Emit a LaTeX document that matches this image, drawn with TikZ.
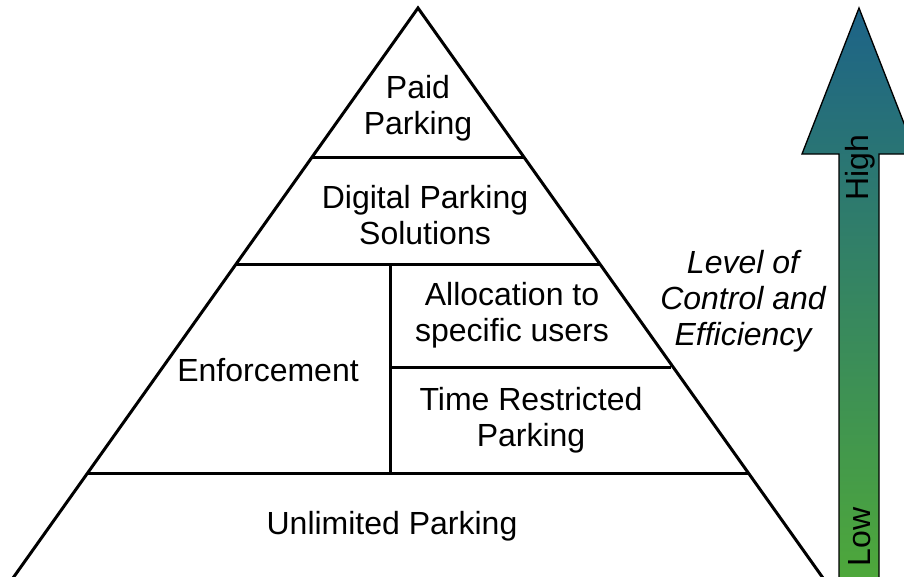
\documentclass[tikz,border=0pt]{standalone}
\usepackage{fontspec}
\setmainfont{Liberation Sans}
\usepackage{tikz}

\definecolor{arrowtop}{RGB}{29,99,136}
\definecolor{arrowbottom}{RGB}{78,168,58}

\tikzset{
    level/.style={line width=2.25pt, line join=miter},
    label/.style={align=center, inner sep=0.75pt, font=\fontsize{24}{27}\selectfont},
}

\begin{document}
\begin{tikzpicture}[x=0.75pt,y=0.75pt,yscale=-1,xscale=1]
        \useasboundingbox (0,0) rectangle (904,576);
        % pyramid
        \coordinate (apex) at (418,8);
        \coordinate (baseL) at (13,578);
        \coordinate (baseR) at (823,578);
        \draw [level] (baseL) -- (apex) -- (baseR);
        \draw [level] (312,157) -- (524,157);
        \draw [level] (235,264) -- (600,264);
        \draw [level] (390,367) -- (671,367);
        \draw [level] (87,473) -- (749,473);
        \draw [level] (390,264) -- (390,473);

        % arrow
        \shade [top color=arrowtop, bottom color=arrowbottom]
            (859,8) -- (916,154) -- (879,154) -- (879,580) -- (839,580) -- (839,154) -- (802,154) -- cycle;
        \draw [line width=1pt, line join=miter]
            (859,8) -- (916,154) -- (879,154) -- (879,580) -- (839,580) -- (839,154) -- (802,154) -- cycle;

        \node [label] (paid) at (418,108) {Paid\\Parking};
        \node [label] (digital) at (425,215) {Digital Parking\\Solutions};
        \node [label] (enforce) at (268,370) {Enforcement};
        \node [label] (alloc) at (512,315) {Allocation to\\specific users};
        \node [label] (time) at (531,420) {Time Restricted\\Parking};
        \node [label] (unlim) at (392,526) {Unlimited Parking};
        \node [label, font=\fontsize{24}{27}\selectfont\itshape] (lvl) at (743,301) {Level of\\Control and\\Efficiency};
        \node [label, rotate=90] (high) at (860,168) {High};
        \node [label, rotate=90] (low) at (860,537) {Low};
\end{tikzpicture}
\end{document}
